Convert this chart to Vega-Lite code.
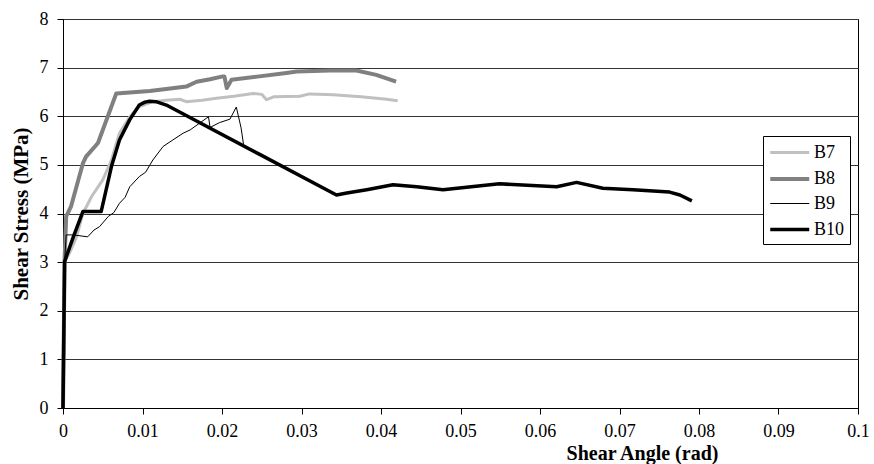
{
  "$schema": "https://vega.github.io/schema/vega-lite/v6.json",
  "width": 795,
  "height": 389,
  "autosize": "none",
  "padding": {"left": 63, "top": 19, "right": 16, "bottom": 56},
  "background": "white",
  "config": {
    "view": {"stroke": "#000000", "strokeWidth": 1},
    "axis": {
      "labelFont": "Liberation Serif",
      "labelFontSize": 18,
      "labelColor": "#000000",
      "titleFont": "Liberation Serif",
      "titleFontWeight": "bold",
      "titleColor": "#000000",
      "tickColor": "#000000",
      "domainColor": "#000000",
      "tickSize": 6,
      "labelFlush": false
    }
  },
  "data": {
    "values": [
      {"s": "B7", "i": 0, "x": 0, "y": 0},
      {"s": "B7", "i": 1, "x": 0.0001, "y": 1.5},
      {"s": "B7", "i": 2, "x": 0.0002, "y": 3.0},
      {"s": "B7", "i": 3, "x": 0.0008, "y": 3.18},
      {"s": "B7", "i": 4, "x": 0.0017, "y": 3.52},
      {"s": "B7", "i": 5, "x": 0.0025, "y": 4.0},
      {"s": "B7", "i": 6, "x": 0.0036, "y": 4.35},
      {"s": "B7", "i": 7, "x": 0.005, "y": 4.69},
      {"s": "B7", "i": 8, "x": 0.0061, "y": 5.1},
      {"s": "B7", "i": 9, "x": 0.0071, "y": 5.65},
      {"s": "B7", "i": 10, "x": 0.0084, "y": 5.99},
      {"s": "B7", "i": 11, "x": 0.0096, "y": 6.2},
      {"s": "B7", "i": 12, "x": 0.0113, "y": 6.3},
      {"s": "B7", "i": 13, "x": 0.013, "y": 6.33},
      {"s": "B7", "i": 14, "x": 0.0147, "y": 6.35},
      {"s": "B7", "i": 15, "x": 0.0155, "y": 6.3},
      {"s": "B7", "i": 16, "x": 0.0175, "y": 6.33},
      {"s": "B7", "i": 17, "x": 0.0193, "y": 6.37},
      {"s": "B7", "i": 18, "x": 0.0215, "y": 6.41},
      {"s": "B7", "i": 19, "x": 0.0239, "y": 6.47},
      {"s": "B7", "i": 20, "x": 0.025, "y": 6.45},
      {"s": "B7", "i": 21, "x": 0.0256, "y": 6.34},
      {"s": "B7", "i": 22, "x": 0.0265, "y": 6.4},
      {"s": "B7", "i": 23, "x": 0.0298, "y": 6.41},
      {"s": "B7", "i": 24, "x": 0.031, "y": 6.46},
      {"s": "B7", "i": 25, "x": 0.034, "y": 6.44},
      {"s": "B7", "i": 26, "x": 0.0375, "y": 6.4},
      {"s": "B7", "i": 27, "x": 0.0407, "y": 6.35},
      {"s": "B7", "i": 28, "x": 0.0421, "y": 6.32},

      {"s": "B8", "i": 0, "x": 0, "y": 0},
      {"s": "B8", "i": 1, "x": 0.0001, "y": 1.5},
      {"s": "B8", "i": 2, "x": 0.0002, "y": 3.05},
      {"s": "B8", "i": 3, "x": 0.0004, "y": 3.94},
      {"s": "B8", "i": 4, "x": 0.001, "y": 4.14},
      {"s": "B8", "i": 5, "x": 0.0025, "y": 5.03},
      {"s": "B8", "i": 6, "x": 0.0029, "y": 5.17},
      {"s": "B8", "i": 7, "x": 0.0044, "y": 5.45},
      {"s": "B8", "i": 8, "x": 0.0067, "y": 6.47},
      {"s": "B8", "i": 9, "x": 0.0109, "y": 6.52},
      {"s": "B8", "i": 10, "x": 0.014, "y": 6.58},
      {"s": "B8", "i": 11, "x": 0.0155, "y": 6.61},
      {"s": "B8", "i": 12, "x": 0.0168, "y": 6.71},
      {"s": "B8", "i": 13, "x": 0.0185, "y": 6.76},
      {"s": "B8", "i": 14, "x": 0.0201, "y": 6.82},
      {"s": "B8", "i": 15, "x": 0.0203, "y": 6.82},
      {"s": "B8", "i": 16, "x": 0.0206, "y": 6.58},
      {"s": "B8", "i": 17, "x": 0.0212, "y": 6.75},
      {"s": "B8", "i": 18, "x": 0.0247, "y": 6.82},
      {"s": "B8", "i": 19, "x": 0.0281, "y": 6.89},
      {"s": "B8", "i": 20, "x": 0.0294, "y": 6.92},
      {"s": "B8", "i": 21, "x": 0.0336, "y": 6.94},
      {"s": "B8", "i": 22, "x": 0.0369, "y": 6.94},
      {"s": "B8", "i": 23, "x": 0.0394, "y": 6.85},
      {"s": "B8", "i": 24, "x": 0.0419, "y": 6.71},

      {"s": "B9", "i": 0, "x": 0, "y": 0},
      {"s": "B9", "i": 1, "x": 0.0001, "y": 1.5},
      {"s": "B9", "i": 2, "x": 0.0002, "y": 3.0},
      {"s": "B9", "i": 3, "x": 0.0004, "y": 3.56},
      {"s": "B9", "i": 4, "x": 0.0013, "y": 3.56},
      {"s": "B9", "i": 5, "x": 0.0031, "y": 3.52},
      {"s": "B9", "i": 6, "x": 0.0039, "y": 3.66},
      {"s": "B9", "i": 7, "x": 0.0046, "y": 3.73},
      {"s": "B9", "i": 8, "x": 0.0057, "y": 3.94},
      {"s": "B9", "i": 9, "x": 0.0064, "y": 4.02},
      {"s": "B9", "i": 10, "x": 0.0071, "y": 4.21},
      {"s": "B9", "i": 11, "x": 0.0078, "y": 4.33},
      {"s": "B9", "i": 12, "x": 0.0084, "y": 4.55},
      {"s": "B9", "i": 13, "x": 0.0096, "y": 4.76},
      {"s": "B9", "i": 14, "x": 0.0104, "y": 4.85},
      {"s": "B9", "i": 15, "x": 0.0113, "y": 5.1},
      {"s": "B9", "i": 16, "x": 0.0126, "y": 5.38},
      {"s": "B9", "i": 17, "x": 0.0138, "y": 5.51},
      {"s": "B9", "i": 18, "x": 0.0151, "y": 5.65},
      {"s": "B9", "i": 19, "x": 0.016, "y": 5.72},
      {"s": "B9", "i": 20, "x": 0.0172, "y": 5.86},
      {"s": "B9", "i": 21, "x": 0.0183, "y": 5.99},
      {"s": "B9", "i": 22, "x": 0.0185, "y": 5.77},
      {"s": "B9", "i": 23, "x": 0.0197, "y": 5.87},
      {"s": "B9", "i": 24, "x": 0.021, "y": 5.94},
      {"s": "B9", "i": 25, "x": 0.0218, "y": 6.19},
      {"s": "B9", "i": 26, "x": 0.0224, "y": 5.76},
      {"s": "B9", "i": 27, "x": 0.0227, "y": 5.43},

      {"s": "B10", "i": 0, "x": 0, "y": 0},
      {"s": "B10", "i": 1, "x": 0.0001, "y": 1.5},
      {"s": "B10", "i": 2, "x": 0.0002, "y": 3.01},
      {"s": "B10", "i": 3, "x": 0.0013, "y": 3.52},
      {"s": "B10", "i": 4, "x": 0.0025, "y": 4.04},
      {"s": "B10", "i": 5, "x": 0.0048, "y": 4.04},
      {"s": "B10", "i": 6, "x": 0.0061, "y": 4.97},
      {"s": "B10", "i": 7, "x": 0.0071, "y": 5.51},
      {"s": "B10", "i": 8, "x": 0.0084, "y": 5.93},
      {"s": "B10", "i": 9, "x": 0.0096, "y": 6.23},
      {"s": "B10", "i": 10, "x": 0.0103, "y": 6.29},
      {"s": "B10", "i": 11, "x": 0.0109, "y": 6.31},
      {"s": "B10", "i": 12, "x": 0.0117, "y": 6.3},
      {"s": "B10", "i": 13, "x": 0.013, "y": 6.23},
      {"s": "B10", "i": 14, "x": 0.0248, "y": 5.21},
      {"s": "B10", "i": 15, "x": 0.0344, "y": 4.38},
      {"s": "B10", "i": 16, "x": 0.0357, "y": 4.42},
      {"s": "B10", "i": 17, "x": 0.0382, "y": 4.49},
      {"s": "B10", "i": 18, "x": 0.0415, "y": 4.59},
      {"s": "B10", "i": 19, "x": 0.0445, "y": 4.55},
      {"s": "B10", "i": 20, "x": 0.0478, "y": 4.49},
      {"s": "B10", "i": 21, "x": 0.0549, "y": 4.61},
      {"s": "B10", "i": 22, "x": 0.0621, "y": 4.55},
      {"s": "B10", "i": 23, "x": 0.0646, "y": 4.64},
      {"s": "B10", "i": 24, "x": 0.0679, "y": 4.52},
      {"s": "B10", "i": 25, "x": 0.0717, "y": 4.49},
      {"s": "B10", "i": 26, "x": 0.0763, "y": 4.44},
      {"s": "B10", "i": 27, "x": 0.0776, "y": 4.38},
      {"s": "B10", "i": 28, "x": 0.0791, "y": 4.26}
    ]
  },
  "mark": {"type": "line", "strokeJoin": "round", "strokeCap": "butt"},
  "encoding": {
    "x": {
      "field": "x",
      "type": "quantitative",
      "scale": {"domain": [0, 0.1], "nice": false, "zero": false},
      "axis": {
        "title": "Shear Angle (rad)",
        "values": [0, 0.01, 0.02, 0.03, 0.04, 0.05, 0.06, 0.07, 0.08, 0.09, 0.1],
        "format": "~g",
        "grid": false,
        "labelPadding": 8,
        "titleFontSize": 20,
        "titleX": 579,
        "titleY": 51,
        "titleAlign": "center",
        "titleBaseline": "alphabetic"
      }
    },
    "y": {
      "field": "y",
      "type": "quantitative",
      "scale": {"domain": [0, 8], "nice": false},
      "axis": {
        "title": "Shear Stress (MPa)",
        "values": [0, 1, 2, 3, 4, 5, 6, 7, 8],
        "grid": true,
        "gridColor": "#333333",
        "gridWidth": 1,
        "labelPadding": 9,
        "titleFontSize": 21,
        "titleX": -36,
        "titleY": 194.5,
        "titleAngle": -90,
        "titleAlign": "center",
        "titleBaseline": "alphabetic"
      }
    },
    "color": {
      "field": "s",
      "type": "nominal",
      "scale": {"domain": ["B7", "B8", "B9", "B10"], "range": ["#c0c0c0", "#808080", "#000000", "#000000"]},
      "legend": {
        "orient": "none",
        "legendX": 700,
        "legendY": 117,
        "title": null,
        "symbolType": "M-1,0H3",
        "symbolSize": 380,
        "labelFont": "Liberation Serif",
        "labelFontSize": 18,
        "labelColor": "#000000",
        "strokeColor": "#000000",
        "fillColor": "#ffffff",
        "padding": 5,
        "rowPadding": 5,
        "labelOffset": 22
      }
    },
    "strokeWidth": {
      "field": "s",
      "type": "nominal",
      "scale": {"type": "ordinal", "domain": ["B7", "B8", "B9", "B10"], "range": [3, 4, 1, 3.5]},
      "legend": {
        "orient": "none",
        "legendX": 700,
        "legendY": 117,
        "title": null,
        "symbolType": "M-1,0H3",
        "symbolSize": 380,
        "labelFont": "Liberation Serif",
        "labelFontSize": 18,
        "labelColor": "#000000",
        "strokeColor": "#000000",
        "fillColor": "#ffffff",
        "padding": 5,
        "rowPadding": 5,
        "labelOffset": 22
      }
    },
    "order": {"field": "i", "type": "quantitative"}
  }
}
